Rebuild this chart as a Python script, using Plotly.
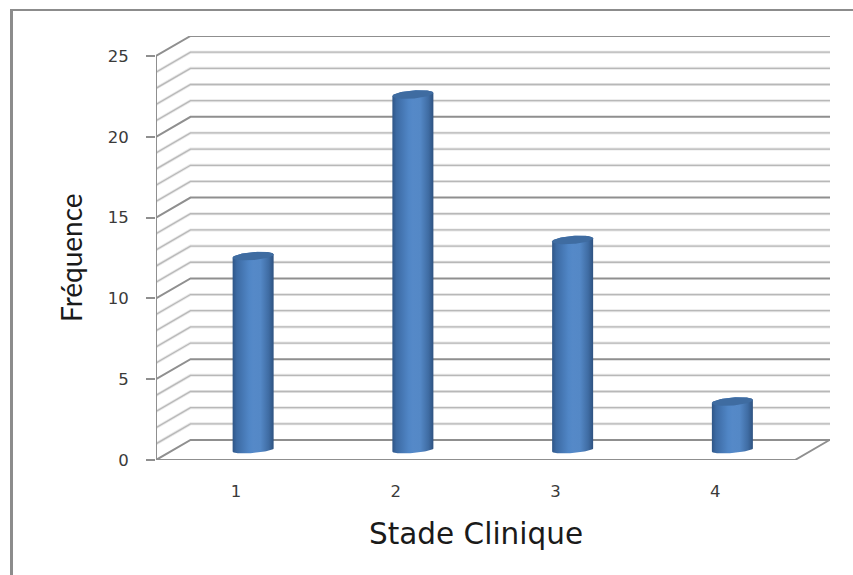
import numpy as np
import plotly.graph_objects as go

categories = [1, 2, 3, 4]
frequencies = [12, 22, 13, 3]
y_tick_values = [0, 5, 10, 15, 20, 25]
grid_values = list(range(0, 26))
x_axis_title = "Stade Clinique"
y_axis_title = "Fréquence"

W, H = 853, 575
FRONT_L, FRONT_R, BACK_R = 156, 795, 830
Y0, Y25, TOP = 460, 56, 36
XU = (FRONT_R - FRONT_L) / 4
YU = (Y0 - Y25) / 25
DX, DY = 34.5 / XU, 20 / YU
X_RANGE = [0.5, 0.5 + (BACK_R - FRONT_L) / XU]
Y_RANGE = [0, (Y0 - TOP) / YU]

fig = go.Figure()


def grid_trace(values, color, width):
    xs, ys = [], []
    for v in values:
        xs += [0.5, 0.5 + DX, X_RANGE[1], None]
        ys += [v, v + DY, v + DY, None]
    return go.Scatter(x=xs, y=ys, mode="lines", line=dict(color=color, width=width),
                      hoverinfo="skip", showlegend=False)


minor = [v for v in grid_values if v % 5]
major = [v for v in grid_values if v % 5 == 0]
fig.add_trace(grid_trace(minor, "rgba(190,190,190,0.35)", 3))
fig.add_trace(grid_trace(minor, "#b8b8b8", 1.3))
fig.add_trace(grid_trace(major, "#8f8f8f", 2))

# left axis line and floor
fig.add_trace(go.Scatter(
    x=[0.5, 0.5, None, 0.5, 4.5, 4.5 + DX],
    y=[0, 25, None, 0, 0, DY],
    mode="lines", line=dict(color="#8f8f8f", width=2),
    hoverinfo="skip", showlegend=False))

RX, RY, TILT = 20.5 / XU, 4 / YU, 1.6 / YU
BODY_SCALE = [[0, "#2f5687"], [0.1, "#3c6aa3"], [0.4, "#5086c6"], [0.5, "#5589c8"],
              [0.68, "#5488c6"], [0.88, "#3f6ca3"], [1, "#2e5280"]]

for cat, val in zip(categories, frequencies):
    cx = cat + DX / 2
    base, top = DY / 2, val + DY / 2
    a = np.linspace(np.pi, 2 * np.pi, 40)
    bx = cx + RX * np.cos(a)
    by = base + 0.75 * RY * np.sin(a) + TILT * np.cos(a)
    b = np.linspace(0, np.pi, 40)
    tx = cx + RX * np.cos(b)
    ty = top + RY * np.sin(b) + TILT * np.cos(b)
    fig.add_trace(go.Scatter(
        x=np.r_[bx, tx], y=np.r_[by, ty], mode="lines", fill="toself",
        line=dict(width=0, color="rgba(0,0,0,0)"),
        fillgradient=dict(type="horizontal", colorscale=BODY_SCALE),
        hoverinfo="skip", showlegend=False))
    c = np.linspace(0, 2 * np.pi, 80)
    fig.add_trace(go.Scatter(
        x=cx + RX * np.cos(c), y=top + RY * np.sin(c) + TILT * np.cos(c),
        mode="lines", fill="toself", fillcolor="#3f6ca1",
        line=dict(width=0, color="rgba(0,0,0,0)"),
        hoverinfo="skip", showlegend=False))

TICK_FONT = dict(family="DejaVu Sans", size=16.5, color="#3a3a3a")
PW, PH = BACK_R - FRONT_L, Y0 - TOP


def px_x(px):
    return (px - FRONT_L) / PW


def px_y(py):
    return (Y0 - py) / PH


fig.update_layout(
    width=W, height=H, autosize=False,
    margin=dict(l=FRONT_L, r=W - BACK_R, t=TOP, b=H - Y0),
    paper_bgcolor="white", plot_bgcolor="white", hovermode=False, showlegend=False,
    xaxis=dict(range=X_RANGE, tickmode="array", tickvals=categories,
               ticktext=[str(c) for c in categories],
               showgrid=False, zeroline=False, showline=False, ticks="",
               ticklabelstandoff=19, tickfont=TICK_FONT),
    yaxis=dict(range=Y_RANGE, tickmode="array", tickvals=y_tick_values,
               showgrid=False, zeroline=False, showline=False,
               ticks="outside", ticklen=9, tickwidth=2, tickcolor="#8f8f8f",
               ticklabelstandoff=14, tickfont=TICK_FONT),
    annotations=[
        dict(text=x_axis_title, xref="paper", yref="paper", x=px_x(476), y=px_y(534),
             xanchor="center", yanchor="middle", showarrow=False,
             font=dict(family="DejaVu Sans", size=29.5, color="#1a1a1a")),
        dict(text=y_axis_title, xref="paper", yref="paper", x=px_x(71), y=px_y(258),
             xanchor="center", yanchor="middle", showarrow=False, textangle=-90,
             font=dict(family="Lato", size=28, color="#1a1a1a")),
    ],
    shapes=[
        dict(type="line", xref="paper", yref="paper", layer="above",
             x0=px_x(11.5), x1=px_x(11.5), y0=px_y(10), y1=px_y(H),
             line=dict(color="#8c8c8c", width=3)),
        dict(type="line", xref="paper", yref="paper", layer="above",
             x0=px_x(10), x1=px_x(W), y0=px_y(10), y1=px_y(10),
             line=dict(color="#8c8c8c", width=2)),
    ],
)
fig.write_html("out.html", config=dict(displayModeBar=False),
               post_script="document.body.style.margin='0';")
